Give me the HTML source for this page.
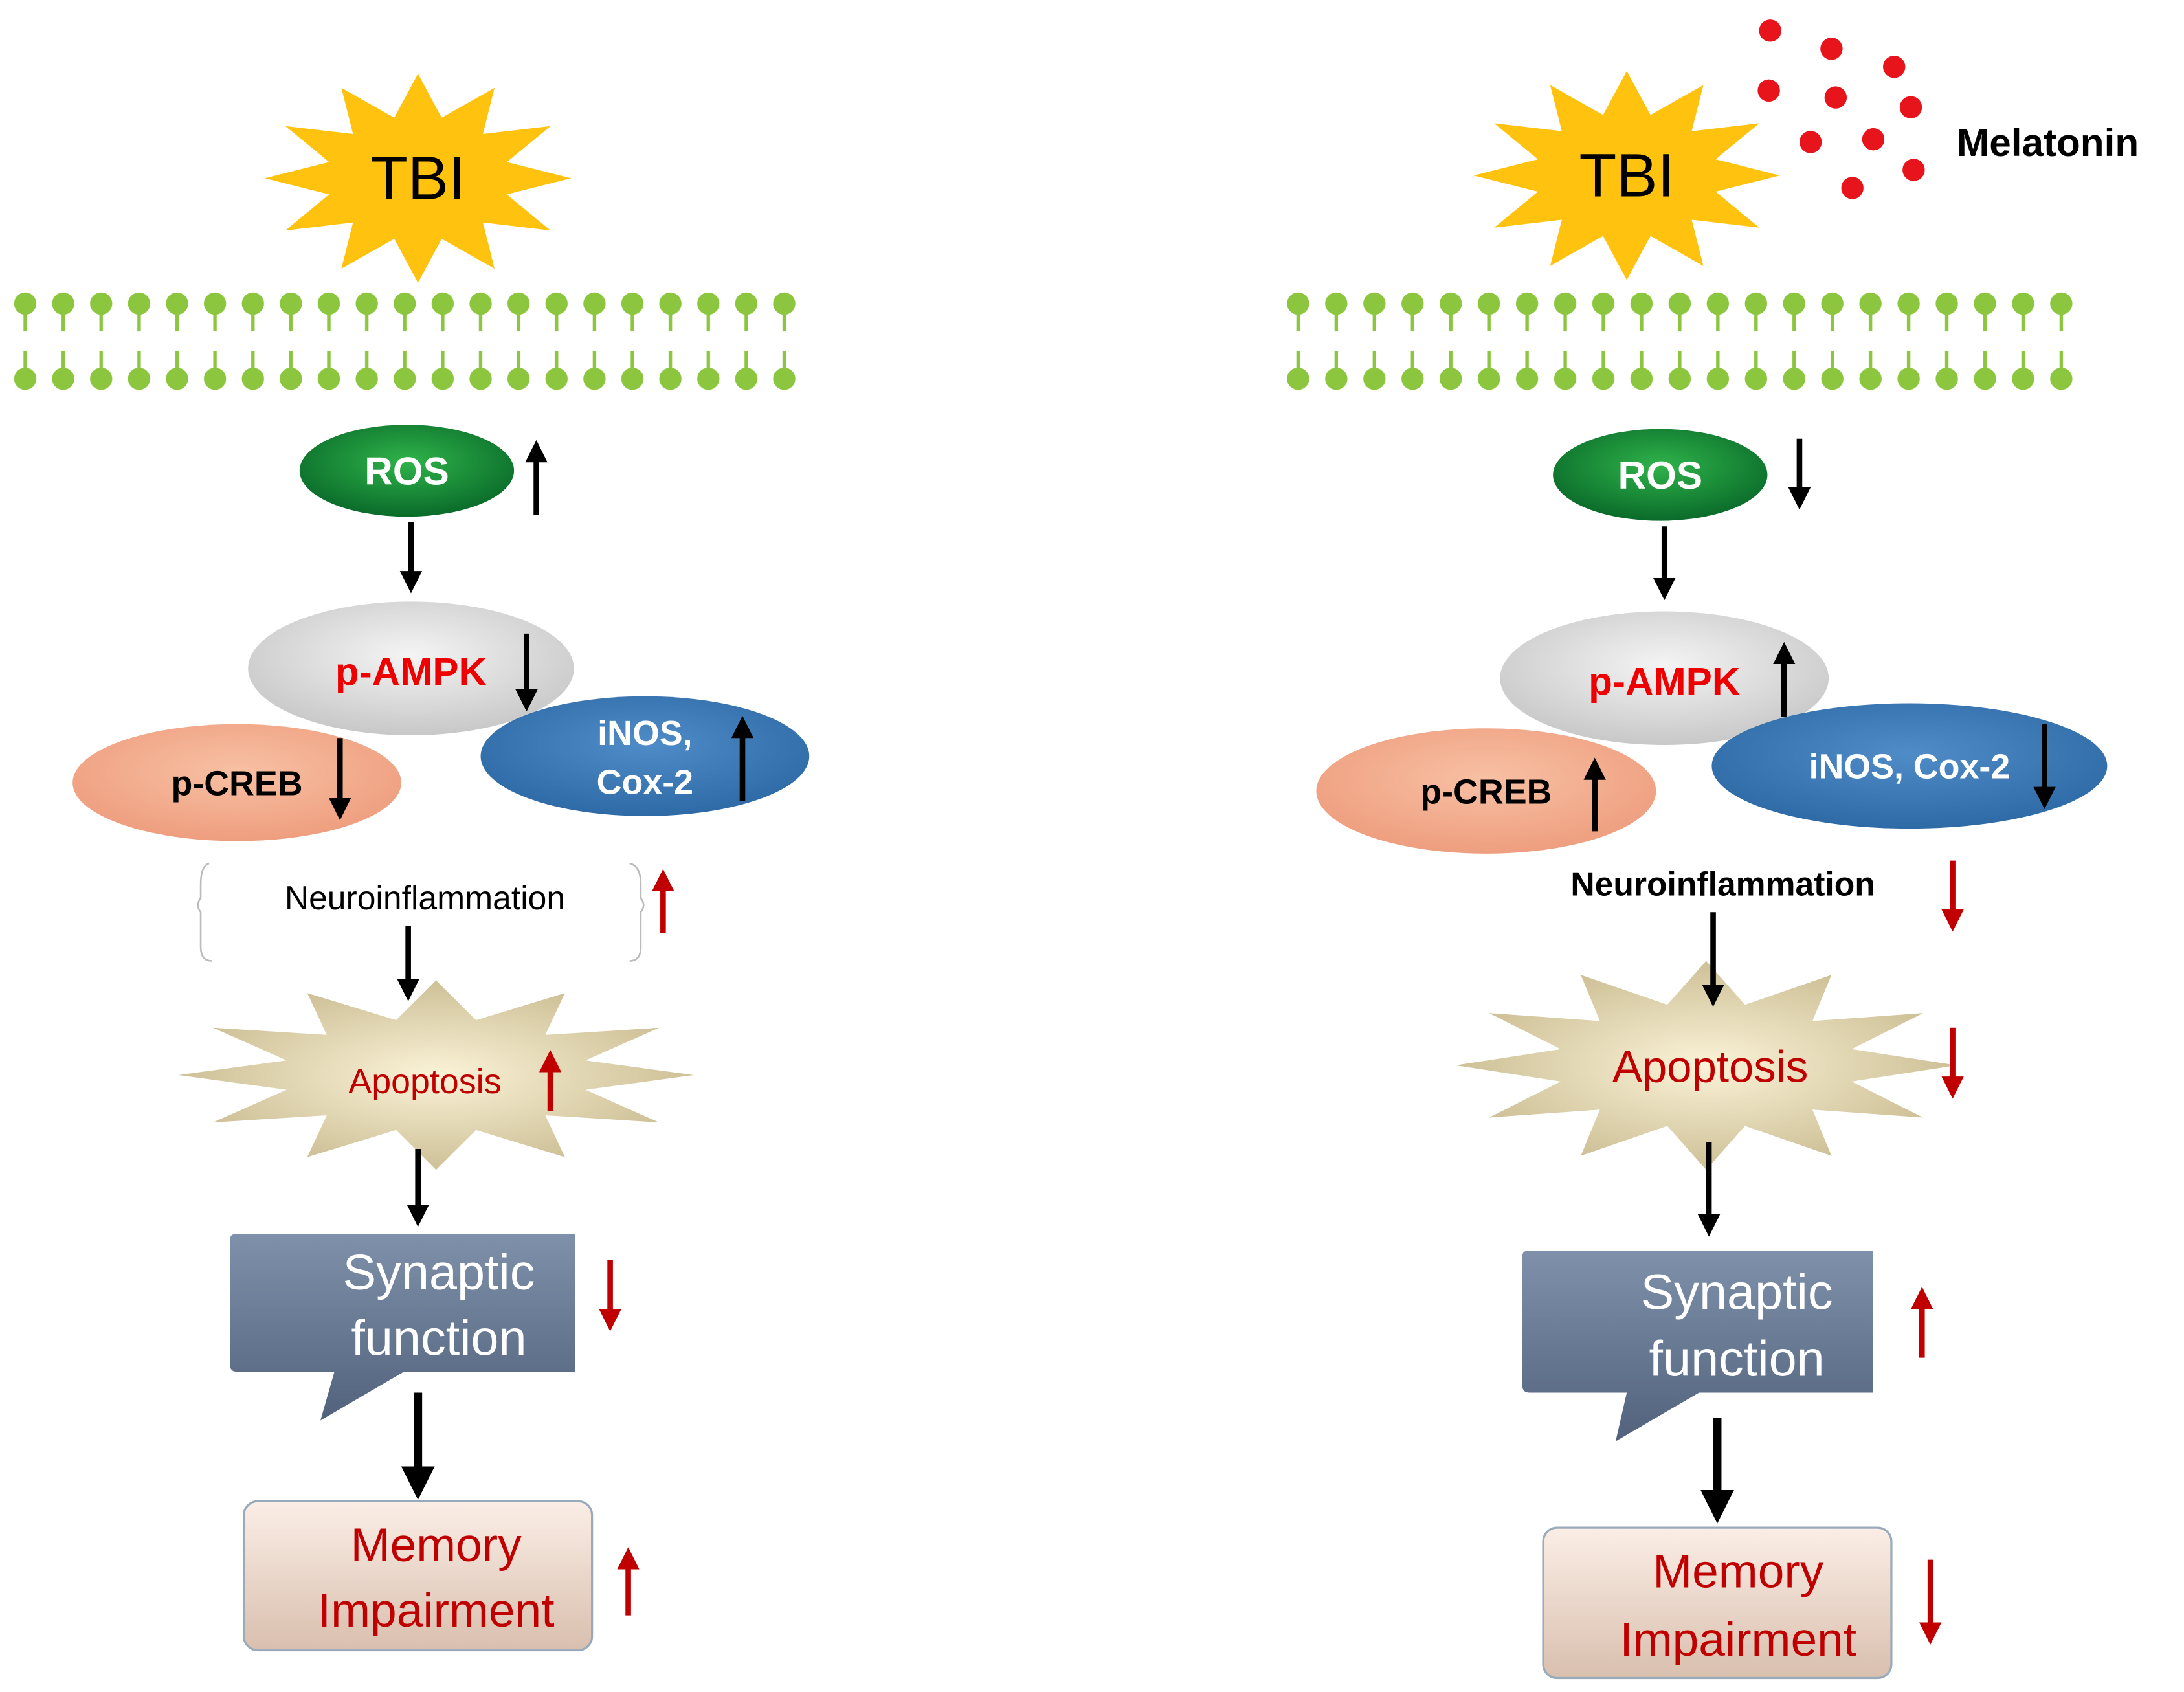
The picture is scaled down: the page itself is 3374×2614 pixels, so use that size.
<!DOCTYPE html>
<html><head><meta charset="utf-8"><style>
html,body{margin:0;padding:0;background:#fff}
svg{display:block}
text{font-family:"Liberation Sans",Arial,sans-serif}
</style></head><body>
<svg width="3374" height="2614" viewBox="0 0 1568 1215" xmlns="http://www.w3.org/2000/svg">
<defs>
<marker id="ab" markerWidth="4" markerHeight="4" refX="2" refY="2" orient="auto" markerUnits="strokeWidth"><path d="M0,0 L4,2 L0,4 z" fill="#000"/></marker>
<marker id="ar" markerWidth="4" markerHeight="4" refX="2" refY="2" orient="auto" markerUnits="strokeWidth"><path d="M0,0 L4,2 L0,4 z" fill="#c00000"/></marker>
<pattern id="memL" x="4.4" y="208" width="27.25" height="74" patternUnits="userSpaceOnUse">
<line x1="13.6" y1="10" x2="13.6" y2="30" stroke="#8cc63f" stroke-width="2.5"/><circle cx="13.6" cy="10" r="8" fill="#8cc63f"/>
<line x1="13.6" y1="64" x2="13.6" y2="44" stroke="#8cc63f" stroke-width="2.5"/><circle cx="13.6" cy="64" r="8" fill="#8cc63f"/>
</pattern>
<pattern id="memR" x="918.4" y="208" width="27.4" height="74" patternUnits="userSpaceOnUse">
<line x1="13.6" y1="10" x2="13.6" y2="30" stroke="#8cc63f" stroke-width="2.5"/><circle cx="13.6" cy="10" r="8" fill="#8cc63f"/>
<line x1="13.6" y1="64" x2="13.6" y2="44" stroke="#8cc63f" stroke-width="2.5"/><circle cx="13.6" cy="64" r="8" fill="#8cc63f"/>
</pattern>
<polygon id="star" points="1,0 .58,.155 .866,.5 .424,.424 .5,.866 .155,.58 0,1 -.155,.58 -.5,.866 -.424,.424 -.866,.5 -.58,.155 -1,0 -.58,-.155 -.866,-.5 -.424,-.424 -.5,-.866 -.155,-.58 0,-1 .155,-.58 .5,-.866 .424,-.424 .866,-.5 .58,-.155"/>
<radialGradient id="ros" cx="50%" cy="40%" r="60%"><stop offset="0" stop-color="#2fb34a"/><stop offset="1" stop-color="#0a6b2a"/></radialGradient>
<radialGradient id="amp" cx="50%" cy="40%" r="60%"><stop offset="0" stop-color="#f4f4f4"/><stop offset="1" stop-color="#c8c8c8"/></radialGradient>
<radialGradient id="creb" cx="50%" cy="40%" r="60%"><stop offset="0" stop-color="#f8c0a4"/><stop offset="1" stop-color="#ee9e7e"/></radialGradient>
<radialGradient id="inos" cx="50%" cy="40%" r="60%"><stop offset="0" stop-color="#4f8cc8"/><stop offset="1" stop-color="#2e6aa6"/></radialGradient>
<radialGradient id="apo" cx="50%" cy="50%" r="55%"><stop offset="0" stop-color="#fbf3d8"/><stop offset="1" stop-color="#c9bb90"/></radialGradient>
<linearGradient id="syn" x1="0" y1="0" x2="0" y2="1"><stop offset="0" stop-color="#7f91aa"/><stop offset="1" stop-color="#52627c"/></linearGradient>
<linearGradient id="mem" x1="0" y1="0" x2="0" y2="1"><stop offset="0" stop-color="#fbeee6"/><stop offset="1" stop-color="#d9bfae"/></linearGradient>
</defs>

<!-- LEFT -->
<use href="#star" transform="translate(300,128) scale(110,75)" fill="#ffc20e"/>
<text x="300" y="143" font-size="44" text-anchor="middle" fill="#000">TBI</text>
<rect x="4" y="208" width="573" height="76" fill="url(#memL)"/>
<ellipse cx="292" cy="338" rx="77" ry="33" fill="url(#ros)"/>
<text x="292" y="348" font-size="28" font-weight="bold" text-anchor="middle" fill="#fff">ROS</text>
<line x1="385" y1="370" x2="385" y2="324" stroke="#000" stroke-width="4" marker-end="url(#ab)"/>
<line x1="295" y1="375" x2="295" y2="418" stroke="#000" stroke-width="4" marker-end="url(#ab)"/>
<ellipse cx="295" cy="480" rx="117" ry="48" fill="url(#amp)"/>
<ellipse cx="170" cy="562" rx="118" ry="42" fill="url(#creb)"/>
<ellipse cx="463" cy="543" rx="118" ry="43" fill="url(#inos)"/>
<text x="295" y="492" font-size="28" font-weight="bold" text-anchor="middle" fill="#e00">p-AMPK</text>
<line x1="378" y1="455" x2="378" y2="503" stroke="#000" stroke-width="4" marker-end="url(#ab)"/>
<text x="170" y="571" font-size="25" font-weight="bold" text-anchor="middle" fill="#000">p-CREB</text>
<line x1="244" y1="530" x2="244" y2="581" stroke="#000" stroke-width="4" marker-end="url(#ab)"/>
<text x="463" y="535" font-size="25" font-weight="bold" text-anchor="middle" fill="#fff">iNOS,</text>
<text x="463" y="570" font-size="25" font-weight="bold" text-anchor="middle" fill="#fff">Cox-2</text>
<line x1="533" y1="575" x2="533" y2="522" stroke="#000" stroke-width="4" marker-end="url(#ab)"/>
<path d="M150,620 Q144,622 144,635 L144,645 Q140,650 144,655 L144,680 Q144,690 152,690" fill="none" stroke="#bbb" stroke-width="1.2"/>
<path d="M452,620 Q460,622 460,635 L460,645 Q464,650 460,655 L460,680 Q460,690 452,690" fill="none" stroke="#bbb" stroke-width="1.2"/>
<text x="305" y="653" font-size="24" text-anchor="middle" fill="#000">Neuroinflammation</text>
<line x1="476" y1="670" x2="476" y2="632" stroke="#c00000" stroke-width="4" marker-end="url(#ar)"/>
<use href="#star" transform="translate(313,772) scale(185,68)" fill="url(#apo)"/>
<line x1="293" y1="665" x2="293" y2="711" stroke="#000" stroke-width="4" marker-end="url(#ab)"/>
<text x="305" y="785" font-size="25" text-anchor="middle" fill="#c00000">Apoptosis</text>
<line x1="395" y1="798" x2="395" y2="762" stroke="#c00000" stroke-width="4" marker-end="url(#ar)"/>
<line x1="300" y1="825" x2="300" y2="873" stroke="#000" stroke-width="4" marker-end="url(#ab)"/>
<path d="M165,890 Q165,886 170,886 L413,886 L413,985 L290,985 L230,1020 L240,985 L170,985 Q165,985 165,980 Z" fill="url(#syn)"/>
<text x="315" y="926" font-size="36" text-anchor="middle" fill="#fff">Synaptic</text>
<text x="315" y="973" font-size="36" text-anchor="middle" fill="#fff">function</text>
<line x1="438" y1="905" x2="438" y2="948" stroke="#c00000" stroke-width="4" marker-end="url(#ar)"/>
<line x1="300" y1="1000" x2="300" y2="1065" stroke="#000" stroke-width="6" marker-end="url(#ab)"/>
<rect x="175" y="1078" width="250" height="107" rx="10" fill="url(#mem)" stroke="#9ab" stroke-width="1.5"/>
<text x="313" y="1121" font-size="34" text-anchor="middle" fill="#c00000">Memory</text>
<text x="313" y="1168" font-size="34" text-anchor="middle" fill="#c00000">Impairment</text>
<line x1="451" y1="1160" x2="451" y2="1119" stroke="#c00000" stroke-width="4" marker-end="url(#ar)"/>

<!-- RIGHT -->
<use href="#star" transform="translate(1168,126) scale(110,75)" fill="#ffc20e"/>
<text x="1168" y="141" font-size="44" text-anchor="middle" fill="#000">TBI</text>
<g fill="#e8141c">
<circle cx="1271" cy="22" r="8"/><circle cx="1315" cy="35" r="8"/><circle cx="1360" cy="48" r="8"/>
<circle cx="1270" cy="65" r="8"/><circle cx="1318" cy="70" r="8"/><circle cx="1372" cy="77" r="8"/>
<circle cx="1300" cy="102" r="8"/><circle cx="1345" cy="100" r="8"/><circle cx="1374" cy="122" r="8"/><circle cx="1330" cy="135" r="8"/>
</g>
<text x="1405" y="112" font-size="28" font-weight="bold" fill="#000">Melatonin</text>
<rect x="918" y="208" width="575" height="76" fill="url(#memR)"/>
<ellipse cx="1192" cy="341" rx="77" ry="33" fill="url(#ros)"/>
<text x="1192" y="351" font-size="28" font-weight="bold" text-anchor="middle" fill="#fff">ROS</text>
<line x1="1292" y1="315" x2="1292" y2="358" stroke="#000" stroke-width="4" marker-end="url(#ab)"/>
<line x1="1195" y1="378" x2="1195" y2="423" stroke="#000" stroke-width="4" marker-end="url(#ab)"/>
<ellipse cx="1195" cy="487" rx="118" ry="48" fill="url(#amp)"/>
<ellipse cx="1067" cy="568" rx="122" ry="45" fill="url(#creb)"/>
<ellipse cx="1371" cy="550" rx="142" ry="45" fill="url(#inos)"/>
<text x="1195" y="499" font-size="28" font-weight="bold" text-anchor="middle" fill="#e00">p-AMPK</text>
<line x1="1281" y1="515" x2="1281" y2="469" stroke="#000" stroke-width="4" marker-end="url(#ab)"/>
<text x="1067" y="577" font-size="25" font-weight="bold" text-anchor="middle" fill="#000">p-CREB</text>
<line x1="1145" y1="597" x2="1145" y2="552" stroke="#000" stroke-width="4" marker-end="url(#ab)"/>
<text x="1371" y="559" font-size="25" font-weight="bold" text-anchor="middle" fill="#fff">iNOS, Cox-2</text>
<line x1="1468" y1="520" x2="1468" y2="573" stroke="#000" stroke-width="4" marker-end="url(#ab)"/>
<text x="1237" y="643" font-size="24" font-weight="bold" text-anchor="middle" fill="#000">Neuroinflammation</text>
<line x1="1402" y1="618" x2="1402" y2="661" stroke="#c00000" stroke-width="4" marker-end="url(#ar)"/>
<use href="#star" transform="translate(1225,765) scale(180,75)" fill="url(#apo)"/>
<line x1="1230" y1="655" x2="1230" y2="715" stroke="#000" stroke-width="4" marker-end="url(#ab)"/>
<text x="1228" y="777" font-size="32" text-anchor="middle" fill="#c00000">Apoptosis</text>
<line x1="1402" y1="738" x2="1402" y2="781" stroke="#c00000" stroke-width="4" marker-end="url(#ar)"/>
<line x1="1227" y1="820" x2="1227" y2="880" stroke="#000" stroke-width="4" marker-end="url(#ab)"/>
<path d="M1093,902 Q1093,898 1098,898 L1345,898 L1345,1000 L1220,1000 L1160,1035 L1168,1000 L1098,1000 Q1093,1000 1093,995 Z" fill="url(#syn)"/>
<text x="1247" y="940" font-size="36" text-anchor="middle" fill="#fff">Synaptic</text>
<text x="1247" y="988" font-size="36" text-anchor="middle" fill="#fff">function</text>
<line x1="1380" y1="975" x2="1380" y2="932" stroke="#c00000" stroke-width="4" marker-end="url(#ar)"/>
<line x1="1233" y1="1018" x2="1233" y2="1082" stroke="#000" stroke-width="6" marker-end="url(#ab)"/>
<rect x="1108" y="1097" width="250" height="108" rx="10" fill="url(#mem)" stroke="#9ab" stroke-width="1.5"/>
<text x="1248" y="1140" font-size="34" text-anchor="middle" fill="#c00000">Memory</text>
<text x="1248" y="1189" font-size="34" text-anchor="middle" fill="#c00000">Impairment</text>
<line x1="1386" y1="1120" x2="1386" y2="1173" stroke="#c00000" stroke-width="4" marker-end="url(#ar)"/>
</svg>
</body></html>
